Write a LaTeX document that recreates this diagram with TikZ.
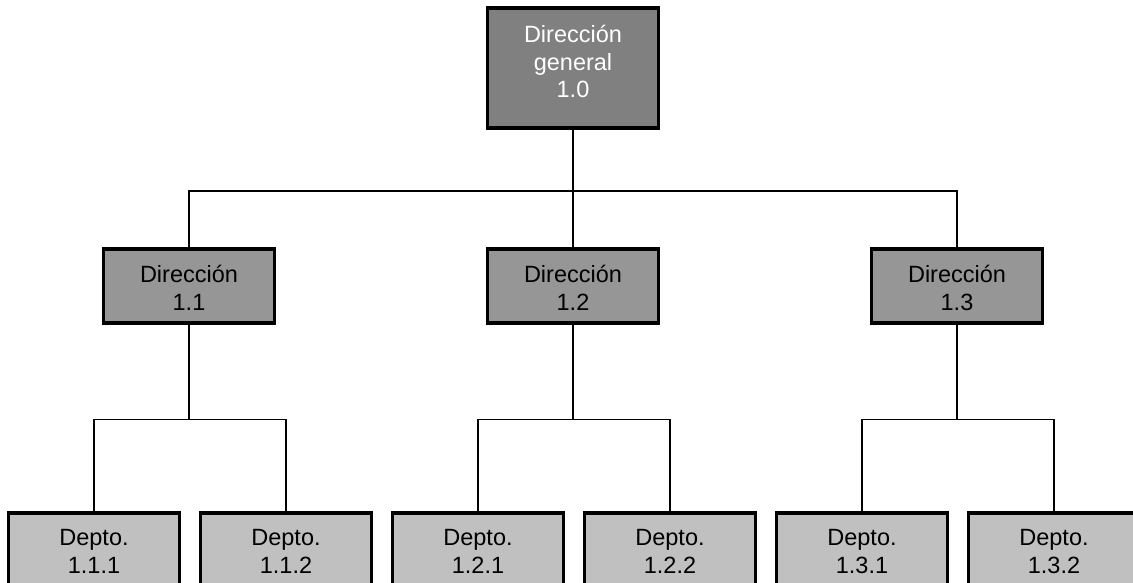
\documentclass[tikz,border=0pt]{standalone}
\usepackage{fontspec}
\setmainfont{Liberation Sans}
\begin{document}
\begin{tikzpicture}[x=1pt,y=-1pt,
  box/.style={draw=black, line width=3.5pt, minimum width=171pt, inner sep=0pt},
  topbox/.style={box, fill={rgb,255:red,128;green,128;blue,128}, minimum height=120pt},
  dirbox/.style={box, fill={rgb,255:red,150;green,150;blue,150}, minimum height=74pt},
  deptbox/.style={box, fill={rgb,255:red,192;green,192;blue,192}, minimum height=90pt},
  lbl/.style={font=\fontsize{23.5}{27.5}\selectfont, align=center, inner sep=0pt},
  link/.style={draw=black, line width=1.4pt}]
\useasboundingbox (0,0) rectangle (1133,582);
\clip (0,0) rectangle (1133,582);

% top level
\node[topbox] (g) at (573,68) {};
\node[lbl, text=white, anchor=north] (gt) at (573,25) {Dirección\\general\\1.0};

% second level
\foreach \n/\x in {1/189,2/573,3/957}{
  \node[dirbox] (d\n) at (\x,286) {};
  \node[lbl, anchor=north] (dt\n) at (\x,265) {Dirección\\1.\n};
}

% third level
\foreach \n/\m/\x in {1/1/94,1/2/286,2/1/478,2/2/670,3/1/862,3/2/1054}{
  \node[deptbox] (p\n\m) at (\x,558) {};
  \node[lbl, anchor=north] (pt\n\m) at (\x,529.5) {Depto.\\1.\n.\m};
}

% connectors
\coordinate (bar) at (573,191);
\draw[link] (g.south) -- (bar);
\draw[link] (d1.north) |- (bar) -| (d3.north);
\draw[link] (bar) -- (d2.north);
\foreach \n in {1,2,3}{
  \draw[link] (d\n.south) -- ++(0,95) coordinate (j\n);
  \draw[link] (p\n1.north) |- (j\n) -| (p\n2.north);
}
\end{tikzpicture}
\end{document}
